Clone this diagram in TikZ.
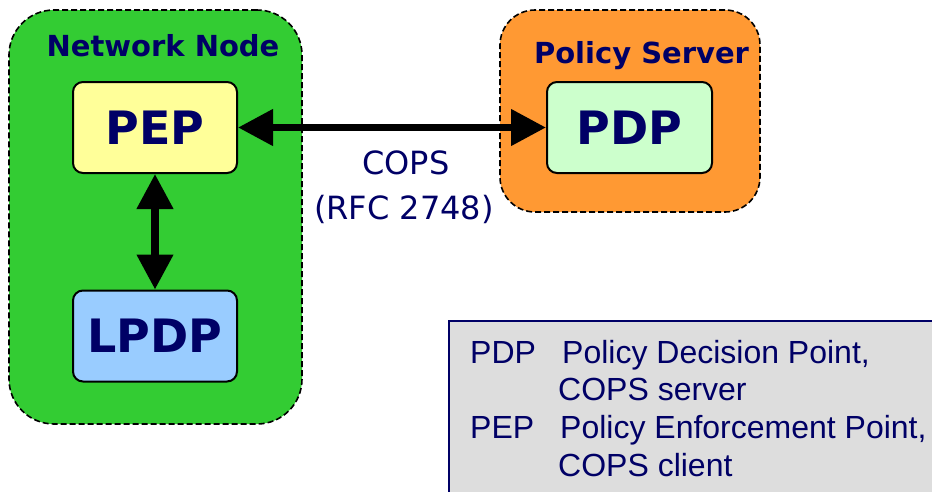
\documentclass[tikz,border=0pt]{standalone}
\usepackage{fontspec}
\newfontfamily\dejavu{DejaVu Sans}
\newfontfamily\arialf{Liberation Sans}
\usetikzlibrary{arrows.meta}
\definecolor{netgreen}{HTML}{33CC33}
\definecolor{srvorange}{HTML}{FF9933}
\definecolor{pepyellow}{HTML}{FFFF99}
\definecolor{lpdpblue}{HTML}{99CCFF}
\definecolor{pdpgreen}{HTML}{CCFFCC}
\definecolor{navy}{HTML}{000066}
\definecolor{leggray}{HTML}{DDDDDD}
\tikzset{
  container/.style={draw=black, line width=1.6pt, dash pattern=on 6pt off 3pt, inner sep=0pt},
  entity/.style={draw=black, line width=2pt, rounded corners=10pt, minimum width=164pt, minimum height=91pt, inner sep=0pt, text=navy, font=\dejavu\bfseries\fontsize{46}{50}\selectfont},
  title/.style={text=navy, font=\dejavu\bfseries\fontsize{29}{33}\selectfont, anchor=base, inner sep=0pt},
  conn/.style={line width=7.5pt, {Triangle[width=35pt,length=35pt]}-{Triangle[width=35pt,length=35pt]}},
  cops/.style={text=navy, font=\dejavu\fontsize{32}{36}\selectfont, anchor=base, inner sep=0pt},
  legtext/.style={text=navy, font=\arialf\fontsize{32}{36}\selectfont, anchor=base west, inner sep=0pt}
}
\begin{document}
\begin{tikzpicture}[x=1pt,y=-1pt]
\clip (0,0) rectangle (932,491);
% containers
\node[container, fill=netgreen, rounded corners=45pt, minimum width=293pt, minimum height=414pt] (net) at (155.5,217) {};
\node[container, fill=srvorange, rounded corners=35pt, minimum width=260pt, minimum height=202pt] (srv) at (630,111) {};
\node[title] (nettitle) at (163,56) {Network Node};
\node[title] (srvtitle) at (641.5,63) {Policy Server};
% entities
\node[entity, fill=pepyellow] (pep) at (155,127.5) {PEP};
\node[entity, fill=lpdpblue] (lpdp) at (155,336) {LPDP};
\node[entity, fill=pdpgreen, minimum width=165pt] (pdp) at (629.5,127.5) {PDP};
% connectors
\draw[conn] (pep.east) -- (pdp.west);
\draw[conn] (pep.south) -- (lpdp.north);
\node[cops] (copsa) at (406,174) {COPS};
\node[cops] (copsb) at (404,219) {(RFC 2748)};
% legend
\node[draw=navy, line width=2pt, fill=leggray, minimum width=500pt, minimum height=200pt, anchor=north west, inner sep=0pt] (legend) at (448,320) {};
\node[legtext] (l1a) at (470,363) {PDP};
\node[legtext] (l1b) at (562,363) {Policy Decision Point,};
\node[legtext] (l2b) at (558,400) {COPS server};
\node[legtext] (l3a) at (470,438) {PEP};
\node[legtext] (l3b) at (560,438) {Policy Enforcement Point,};
\node[legtext] (l4b) at (558,476) {COPS client};
\end{tikzpicture}
\end{document}
